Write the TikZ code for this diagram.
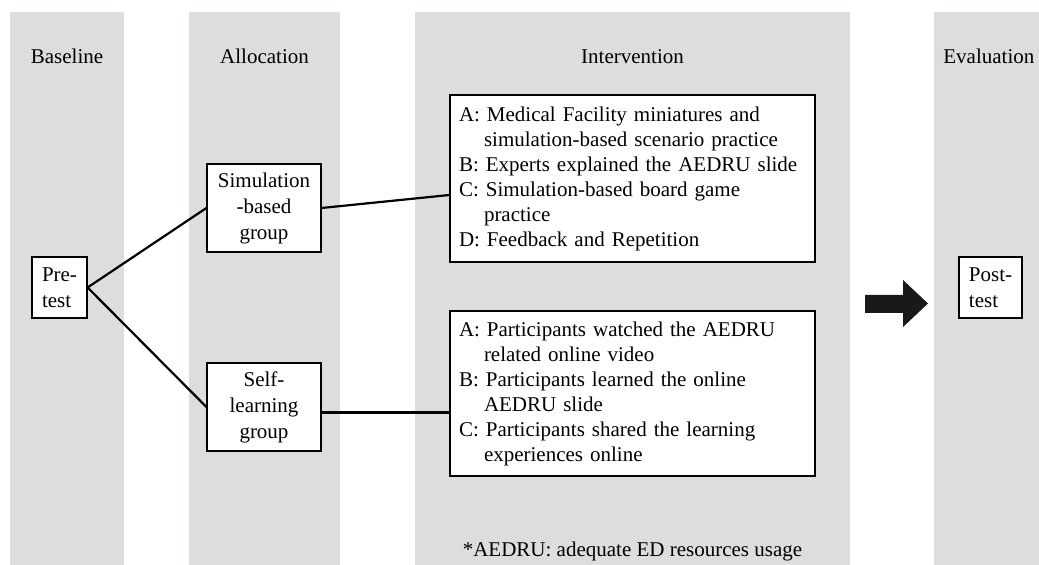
\documentclass[tikz,border=0pt]{standalone}
\usepackage{fontspec}
\setmainfont{Liberation Serif}

\definecolor{bandgray}{RGB}{220,221,223}
\newcommand{\stepindent}{\hspace*{12.5pt}}

\begin{document}
\begin{tikzpicture}[x=0.5pt, y=-0.5pt,
    band/.style={fill=bandgray},
    head/.style={anchor=base, inner sep=0pt, font=\fontsize{10.5}{12.5}\selectfont},
    group/.style={rectangle, draw, fill=white, line width=0.6pt, align=center, minimum width=57pt, minimum height=44pt, inner sep=2pt, font=\fontsize{10.5}{13}\selectfont},
    steps/.style={rectangle, draw, fill=white, line width=0.6pt, align=left, text width=173.5pt, inner xsep=4.5pt, minimum height=83.5pt, font=\fontsize{10.5}{12.5}\selectfont},
    link/.style={line width=1.1pt}]

    \useasboundingbox (0,0) rectangle (1039,565);

    % columns
    \fill[band] (10,12) rectangle (124,565);
    \fill[band] (189,12) rectangle (340,565);
    \fill[band] (415,12) rectangle (850,565);
    \fill[band] (934,12) rectangle (1039,565);

    \node[head] (hbase) at (67,64) {Baseline};
    \node[head] (halloc) at (264.5,64) {Allocation};
    \node[head] (hinterv) at (632.5,64) {Intervention};
    \node[head, anchor=base west] (heval) at (943,64) {Evaluation};

    % boxes
    \node[group, align=left, minimum width=27.5pt, minimum height=30.5pt] (pre) at (59.5,287.5) {Pre-\\test};
    \node[group] (sim) at (264,208) {Simulation\\-based\\group};
    \node[group] (self) at (264,407) {Self-\\learning\\group};
    \node[steps] (ia) at (632.5,178.5) {A: Medical Facility miniatures and\\
        \stepindent simulation-based scenario practice\\
        B: Experts explained the AEDRU slide\\
        C: Simulation-based board game\\
        \stepindent practice\\
        D: Feedback and Repetition};
    \node[steps, minimum height=82.5pt] (ib) at (632.5,393.5) {A: Participants watched the AEDRU\\
        \stepindent related online video\\
        B: Participants learned the online\\
        \stepindent AEDRU slide\\
        C: Participants shared the learning\\
        \stepindent experiences online};
    \node[group, align=left, minimum width=31.5pt, minimum height=30.5pt] (post) at (990.5,287.5) {Post-\\test};

    \node[head] (note) at (632.5,557) {*AEDRU: adequate ED resources usage};

    % links
    \draw[link] (pre.east) -- (sim.west);
    \draw[link] (pre.east) -- (self.west);
    \draw[link] (sim.east) -- ([yshift=-8.25pt]ia.west);
    \draw[link, line width=1.5pt] ([yshift=-3pt]self.east) -- ([yshift=-3pt]self.east -| ib.west);

    \fill[black!90] (865,295) -- (903,295) -- (903,280) -- (928,303.5) -- (903,327) -- (903,313) -- (865,313) -- cycle;

\end{tikzpicture}
\end{document}
